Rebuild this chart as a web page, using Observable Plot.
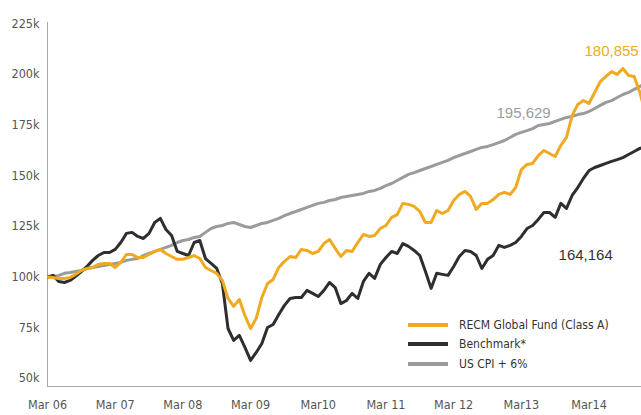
<!DOCTYPE html>
<html><head><meta charset="utf-8">
<script src="https://cdn.jsdelivr.net/npm/d3@7"></script>
<script src="https://cdn.jsdelivr.net/npm/@observablehq/plot@0.6"></script>
<style>
html,body{margin:0;padding:0;background:#fff;overflow:hidden;}
#wrap{position:relative;width:641px;height:415px;}
.legend{position:absolute;left:408px;top:315px;font-family:"DejaVu Sans Condensed","DejaVu Sans",sans-serif;font-stretch:condensed;font-size:12px;color:#333;}
.legend div{display:flex;align-items:center;height:19.5px;}
.legend span.sw{display:inline-block;width:40px;height:4px;margin-right:11px;}
</style></head><body><div id="wrap"></div>
<script>
// Values in thousands, one per month starting Mar 2006
const recm = [100.0,99.8,99.3,99.3,99.8,101.3,103.2,104.2,104.7,106.2,106.7,106.7,104.7,107.2,111.1,111.1,109.6,109.6,111.1,112.6,113.6,111.6,110.1,108.7,108.7,109.6,110.6,109.1,104.7,103.2,101.8,98.3,89.4,85.5,88.9,81.0,74.6,79.6,89.9,96.8,98.8,104.7,107.7,110.1,109.6,113.6,113.1,111.6,112.6,116.5,118.5,114.1,110.1,113.1,112.6,117.0,121.0,120.0,120.5,123.9,125.4,129.4,130.8,136.3,135.8,134.8,132.3,126.9,126.9,132.8,131.3,132.8,137.7,140.7,142.2,139.7,133.3,136.3,136.3,138.2,140.7,141.7,140.7,144.1,153.0,155.5,156.0,159.9,162.4,160.9,159.4,164.9,168.8,179.6,185.1,187.0,185.6,191.0,196.4,198.9,201.3,199.9,202.8,199.4,198.9,191.0,180.855];
const benchmark = [100.0,100.8,97.8,97.3,98.3,100.3,102.7,105.2,108.2,110.6,112.1,112.1,113.6,117.0,121.5,122.0,120.0,119.0,121.5,126.9,128.9,123.4,120.5,112.6,111.6,110.6,117.0,118.0,109.1,106.7,104.2,96.8,74.6,68.7,71.2,65.3,58.9,62.8,67.2,75.1,76.6,81.5,86.0,89.4,89.9,89.9,93.4,91.9,90.4,93.4,97.3,94.8,86.9,88.4,91.9,89.4,97.8,101.8,99.3,106.2,109.6,112.6,111.6,116.5,115.1,113.1,110.6,102.7,94.4,101.8,101.3,100.8,105.2,110.1,113.1,112.6,110.6,104.2,108.7,110.6,115.6,114.6,115.6,117.0,120.0,123.9,125.4,128.4,131.8,131.8,129.4,136.3,133.8,140.2,144.1,148.6,152.5,154.0,155.0,156.0,157.0,157.9,158.9,160.4,161.9,163.4,164.164];
const cpi = [100.0,100.3,100.8,101.8,102.2,102.7,103.2,104.2,104.7,105.2,105.7,106.2,106.7,107.2,108.2,108.7,109.1,110.6,111.6,112.6,113.6,114.6,115.6,117.0,118.0,118.5,119.5,120.0,122.0,123.9,124.9,125.4,126.4,126.9,125.9,124.9,124.4,125.4,126.4,126.9,127.9,128.9,130.3,131.3,132.3,133.3,134.3,135.3,136.3,136.8,137.7,138.2,139.2,139.7,140.2,140.7,141.2,142.2,142.7,143.7,145.1,146.1,147.6,149.1,150.6,151.5,152.5,153.5,154.5,155.5,156.5,157.5,158.9,159.9,160.9,161.9,162.9,163.9,164.4,165.3,166.3,167.3,168.8,170.3,171.3,172.2,173.2,174.7,175.2,175.7,176.7,177.7,178.7,179.2,180.1,180.6,181.6,183.1,184.6,186.1,187.0,188.5,190.0,191.0,192.5,193.9,195.629];

const seriesNames = ["US CPI + 6%", "Benchmark*", "RECM Global Fund (Class A)"];
const seriesColors = ["#9b9b9c", "#2e2e2e", "#f0aa20"];
const xTickLabels = ["Mar 06","Mar 07","Mar 08","Mar 09","Mar10","Mar 11","Mar 12","Mar13","Mar14"];
const xTickMonths = [0, 12, 24, 36, 48, 60, 72, 84, 96];
const yTicks = [50, 75, 100, 125, 150, 175, 200, 225];
const annoText = ["180,855", "195,629", "164,164"];
const annoMonth = [100.0, 84.4, 95.4];
const annoValue = [211.2, 180.6, 110.6];
const annoColor = ["#f0aa20", "#9b9b9c", "#333333"];

const rows = [];
[cpi, benchmark, recm].forEach((arr, s) => arr.forEach((v, i) => rows.push({series: seriesNames[s], month: i, value: v})));
const annos = annoText.map((t, i) => ({text: t, month: annoMonth[i], value: annoValue[i], color: annoColor[i]}));

const chart = Plot.plot({
  width: 641, height: 415,
  marginLeft: 47, marginRight: 0, marginTop: 22, marginBottom: 29,
  style: {fontFamily: '"DejaVu Sans Condensed","DejaVu Sans",sans-serif', fontStretch: "condensed", fontSize: "12.5px", color: "#555", background: "#fff"},
  x: {domain: [0, 105.3], ticks: xTickMonths, tickFormat: d => xTickLabels[xTickMonths.indexOf(d)], tickSize: 0, tickPadding: 14, label: null},
  y: {domain: [46, 225.5], ticks: yTicks, tickFormat: d => d + "k", tickSize: 0, tickPadding: 8, label: null},
  color: {domain: seriesNames, range: seriesColors},
  marks: [
    Plot.ruleX([0], {stroke: "#a8a8a8", strokeWidth: 1}),
    Plot.ruleY([46], {stroke: "#a8a8a8", strokeWidth: 1}),
    Plot.line(rows, {x: "month", y: "value", z: "series", stroke: "series", strokeWidth: 3, clip: true}),
    Plot.text(annos, {x: "month", y: "value", text: "text", fill: "color", fontSize: 15, fontFamily: '"Liberation Sans",Arial,sans-serif'})
  ]
});
const wrap = document.getElementById("wrap");
wrap.appendChild(chart);
const legend = document.createElement("div");
legend.className = "legend";
[2, 1, 0].forEach(i => {
  const row = document.createElement("div");
  row.innerHTML = `<span class="sw" style="background:${seriesColors[i]}"></span><span>${seriesNames[i]}</span>`;
  legend.appendChild(row);
});
wrap.appendChild(legend);
</script></body></html>
